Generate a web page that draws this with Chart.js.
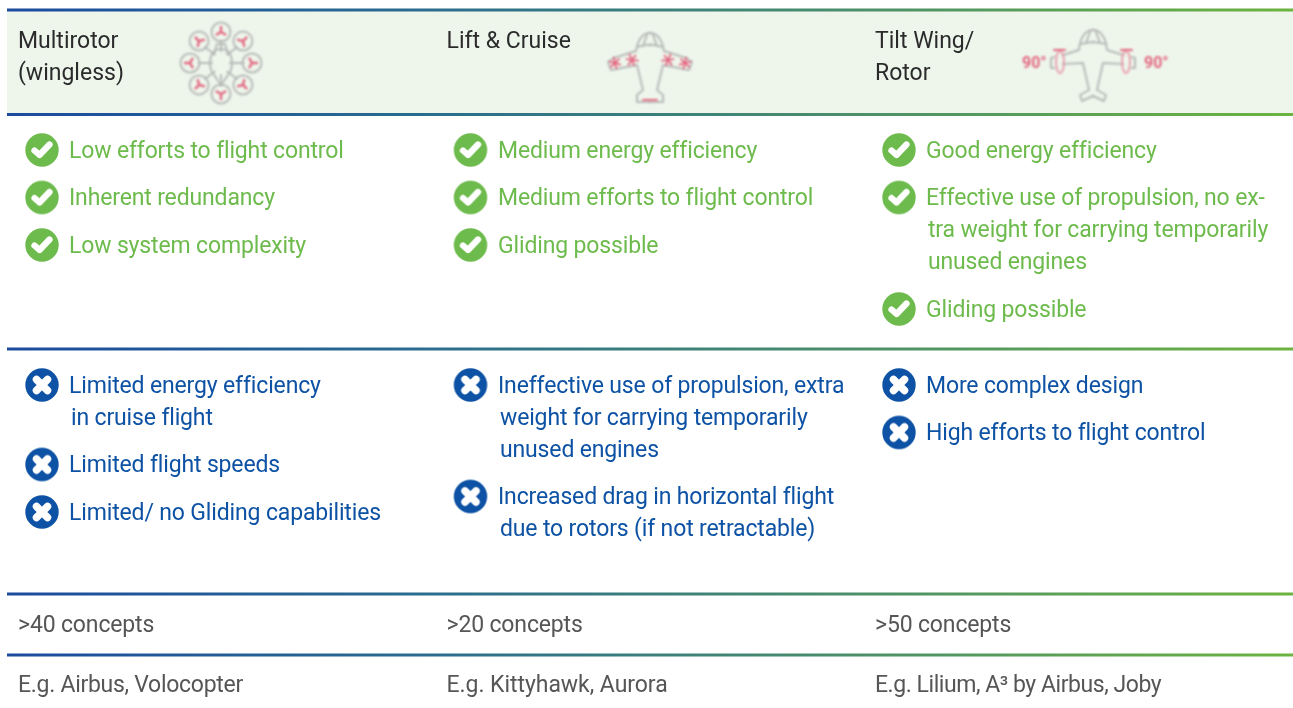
<!DOCTYPE html>
<html>
<head>
<meta charset="utf-8">
<title>VTOL architectures</title>
<script src="https://cdn.jsdelivr.net/npm/chart.js@4"></script>
<style>
    html, body { margin: 0; padding: 0; background: #ffffff; }
    canvas { display: block; }
</style>
</head>
<body>
<canvas id="tableChart" width="1293" height="708"></canvas>
<script>
// Table content, one entry per column
const headerLines = [['Multirotor', '(wingless)'], ['Lift & Cruise'], ['Tilt Wing/', 'Rotor']];
const prosLines = [
    [['Low efforts to flight control'], ['Inherent redundancy'], ['Low system complexity']],
    [['Medium energy efficiency'], ['Medium efforts to flight control'], ['Gliding possible']],
    [['Good energy efficiency'], ['Effective use of propulsion, no ex-', 'tra weight for carrying temporarily', 'unused engines'], ['Gliding possible']]
];
const consLines = [
    [['Limited energy efficiency', 'in cruise flight'], ['Limited flight speeds'], ['Limited/ no Gliding capabilities']],
    [['Ineffective use of propulsion, extra', 'weight for carrying temporarily', 'unused engines'], ['Increased drag in horizontal flight', 'due to rotors (if not retractable)']],
    [['More complex design'], ['High efforts to flight control']]
];
const conceptCounts = ['>40 concepts', '>20 concepts', '>50 concepts'];
const exampleLines = ['E.g. Airbus, Volocopter', 'E.g. Kittyhawk, Aurora', 'E.g. Lilium, A³ by Airbus, Joby'];

// Layout of the table in axis units
const layout = {
    ruleStart: 7, ruleEnd: 1293,
    rules: [10, 114.5, 349, 594, 655],
    colText: [18, 446.5, 875],
    colIcon: [42, 470.5, 899],
    colItem: [69, 498, 926],
    iconCenter: [[221, 63], [650, 65], [1095, 65]],
    headerY: 42, prosY: 150, consY: 385, conceptY: 626, exampleY: 686,
    lineHeight: 32, itemGap: 15.5, wrapIndent: 2, textShift: 2,
    exampleSpacing: [-0.28, -0.05, -0.45]
};
const FONT = 'Roboto, sans-serif';
const GREEN = '#6dbb4c';
const BLUE = '#0d52a4';
const ICON_GRAY = '#b8bab8';
const ICON_RED = '#e2667f';

function makeCanvas(w, h) {
    const c = document.createElement('canvas');
    c.width = w;
    c.height = h;
    return c;
}

// Round badge with check mark
function checkIcon() {
    const c = makeCanvas(36, 36);
    const g = c.getContext('2d');
    g.fillStyle = GREEN;
    g.beginPath();
    g.arc(18, 18, 16.7, 0, Math.PI * 2);
    g.fill();
    g.strokeStyle = '#ffffff';
    g.lineWidth = 6.3;
    g.lineCap = 'round';
    g.lineJoin = 'round';
    g.beginPath();
    g.moveTo(10.5, 18.5);
    g.lineTo(15.5, 23);
    g.lineTo(25.5, 12.5);
    g.stroke();
    return c;
}

// Round badge with cross
function crossIcon() {
    const c = makeCanvas(36, 36);
    const g = c.getContext('2d');
    g.fillStyle = BLUE;
    g.beginPath();
    g.arc(18, 18, 16.7, 0, Math.PI * 2);
    g.fill();
    g.strokeStyle = '#ffffff';
    g.lineWidth = 7.5;
    g.lineCap = 'round';
    g.beginPath();
    g.moveTo(12.5, 12.5);
    g.lineTo(23.5, 23.5);
    g.moveTo(23.5, 12.5);
    g.lineTo(12.5, 23.5);
    g.stroke();
    return c;
}

function blurred(g) {
    g.filter = 'blur(0.8px)';
    g.strokeStyle = ICON_GRAY;
    g.lineWidth = 2;
    g.lineCap = 'round';
    g.lineJoin = 'round';
}

function propeller(g, x, y, r, start, width) {
    g.save();
    g.strokeStyle = ICON_RED;
    g.lineWidth = width;
    g.beginPath();
    for (let i = 0; i < 3; i++) {
        const a = start + i * Math.PI * 2 / 3;
        g.moveTo(x, y);
        g.lineTo(x + Math.cos(a) * r, y + Math.sin(a) * r);
    }
    g.stroke();
    g.restore();
}

function multirotorIcon() {
    const c = makeCanvas(90, 90);
    const g = c.getContext('2d');
    blurred(g);
    const cx = 45, cy = 45;
    // arms and rotors
    for (let i = 0; i < 8; i++) {
        const a = -Math.PI / 2 + i * Math.PI / 4;
        const rx = cx + Math.cos(a) * 31, ry = cy + Math.sin(a) * 31;
        g.beginPath();
        g.moveTo(cx + Math.cos(a) * 9, cy + Math.sin(a) * 12);
        g.lineTo(rx - Math.cos(a) * 9, ry - Math.sin(a) * 9);
        g.stroke();
        g.beginPath();
        g.arc(rx, ry, 9.5, 0, Math.PI * 2);
        g.stroke();
        propeller(g, rx, ry, 5, a + Math.PI / 2 + Math.PI / 6, 2.4);
    }
    // body
    g.beginPath();
    g.moveTo(45, 31);
    g.bezierCurveTo(58, 31, 57, 48, 54, 54);
    g.lineTo(45, 67);
    g.lineTo(36, 54);
    g.bezierCurveTo(33, 48, 32, 31, 45, 31);
    g.moveTo(41, 26);
    g.lineTo(38, 36);
    g.moveTo(49, 26);
    g.lineTo(52, 36);
    g.moveTo(41, 26);
    g.lineTo(49, 26);
    g.stroke();
    return c;
}

function liftCruiseIcon() {
    const c = makeCanvas(100, 90);
    const g = c.getContext('2d');
    blurred(g);
    const half = (s) => {
        g.save();
        g.translate(50, 0);
        g.scale(s, 1);
        g.beginPath();
        g.moveTo(0, 13);
        g.bezierCurveTo(-8, 13, -12, 20, -14, 31);
        g.lineTo(-36, 38);
        g.lineTo(-42, 42);
        g.lineTo(-39, 50);
        g.lineTo(-13, 45);
        g.lineTo(-7, 70);
        g.lineTo(-13, 75);
        g.lineTo(-13, 82);
        g.lineTo(0, 82);
        g.moveTo(-3, 15);
        g.lineTo(-7, 26);
        g.moveTo(-13, 27);
        g.quadraticCurveTo(0, 24, 0, 25);
        g.stroke();
        propeller(g, -35, 43, 5.5, 0.3, 1.9);
        propeller(g, -35, 43, 5.5, 1.3, 1.9);
        propeller(g, -18, 40, 6, 0.1, 1.9);
        propeller(g, -18, 40, 5.5, 1.2, 1.9);
        g.restore();
    };
    half(1);
    half(-1);
    g.strokeStyle = ICON_RED;
    g.lineWidth = 2;
    g.beginPath();
    g.moveTo(43, 80);
    g.lineTo(57, 80);
    g.stroke();
    return c;
}

function tiltIcon() {
    const c = makeCanvas(160, 90);
    const g = c.getContext('2d');
    blurred(g);
    const half = (s) => {
        g.save();
        g.translate(78, 0);
        g.scale(s, 1);
        g.beginPath();
        g.moveTo(0, 10);
        g.bezierCurveTo(-8, 10, -13, 18, -14, 30);
        g.lineTo(-30, 35);
        g.moveTo(-38, 37);
        g.lineTo(-42, 38);
        g.lineTo(-42, 48);
        g.lineTo(-38, 48);
        g.moveTo(-30, 44);
        g.lineTo(-10, 43);
        g.lineTo(-4, 70);
        g.lineTo(-13, 75);
        g.lineTo(-11, 81);
        g.lineTo(0, 76);
        g.moveTo(-3, 12);
        g.lineTo(-7, 23);
        g.moveTo(-13, 24);
        g.lineTo(0, 22);
        g.stroke();
        g.strokeStyle = '#e8a0ae';
        g.beginPath();
        g.ellipse(-33, 42, 4, 11, 0, 0, Math.PI * 2);
        g.stroke();
        g.strokeStyle = ICON_RED;
        g.lineWidth = 2;
        g.beginPath();
        g.moveTo(-39, 30);
        g.lineTo(-28, 30);
        g.stroke();
        g.restore();
    };
    half(1);
    half(-1);
    g.fillStyle = ICON_RED;
    g.font = 'bold 16px "Liberation Sans Narrow", ' + FONT;
    g.textBaseline = 'middle';
    g.textAlign = 'left';
    g.fillText('90°', 7, 44);
    g.fillText('90°', 129, 44);
    return c;
}

// Stack list items downwards, returns one record per text line
function flowItems(items, colIndex, startY, color) {
    const lines = [];
    const icons = [];
    let y = startY;
    items.forEach(item => {
        icons.push({ x: layout.colIcon[colIndex], y: y });
        item.forEach((text, i) => {
            lines.push({ x: layout.colItem[colIndex] + (i > 0 ? layout.wrapIndent : 0), y: y + layout.textShift, text: text, color: color, spacing: -0.15 });
            y += layout.lineHeight;
        });
        y += layout.itemGap;
    });
    return { lines, icons };
}

const textRows = [];
const checkPoints = [];
const crossPoints = [];
headerLines.forEach((col, c) => {
    col.forEach((text, i) => {
        textRows.push({ x: layout.colText[c], y: layout.headerY + i * layout.lineHeight, text: text, color: '#2b2b2b', spacing: 0 });
    });
    const pros = flowItems(prosLines[c], c, layout.prosY, GREEN);
    const cons = flowItems(consLines[c], c, layout.consY, BLUE);
    textRows.push(...pros.lines, ...cons.lines);
    checkPoints.push(...pros.icons);
    crossPoints.push(...cons.icons);
    textRows.push({ x: layout.colText[c], y: layout.conceptY, text: conceptCounts[c], color: '#565656', spacing: -0.15 });
    textRows.push({ x: layout.colText[c], y: layout.exampleY, text: exampleLines[c], color: '#565656', spacing: layout.exampleSpacing[c] });
});

const ruleGradient = makeCanvas(1, 1).getContext('2d').createLinearGradient(layout.ruleStart, 0, layout.ruleEnd, 0);
ruleGradient.addColorStop(0, '#1b4b9f');
ruleGradient.addColorStop(0.33, '#2a6d8e');
ruleGradient.addColorStop(0.66, '#4b8f6a');
ruleGradient.addColorStop(1, '#6db33f');

const tableText = {
    id: 'tableText',
    afterDatasetsDraw(chart) {
        const { ctx, scales } = chart;
        ctx.save();
        ctx.font = '23px ' + FONT;
        ctx.textBaseline = 'middle';
        ctx.textAlign = 'left';
        textRows.forEach(row => {
            ctx.fillStyle = row.color;
            ctx.letterSpacing = row.spacing + 'px';
            ctx.fillText(row.text, scales.x.getPixelForValue(row.x), scales.y.getPixelForValue(row.y));
        });
        ctx.restore();
    }
};

const ruleDatasets = layout.rules.map(y => ({
    type: 'line',
    data: [{ x: layout.ruleStart, y: y }, { x: layout.ruleEnd, y: y }],
    borderColor: ruleGradient,
    borderWidth: 3,
    pointRadius: 0,
    order: 1
}));

new Chart(document.getElementById('tableChart'), {
    type: 'scatter',
    data: {
        datasets: [
            {
                // header band
                type: 'line',
                data: [{ x: layout.ruleStart, y: layout.rules[0] }, { x: layout.ruleEnd, y: layout.rules[0] }],
                borderWidth: 0,
                pointRadius: 0,
                fill: { value: layout.rules[1] },
                backgroundColor: '#eef6ec',
                order: 2
            },
            ...ruleDatasets,
            { data: checkPoints, pointStyle: checkIcon(), order: 0 },
            { data: crossPoints, pointStyle: crossIcon(), order: 0 },
            { data: [{ x: layout.iconCenter[0][0], y: layout.iconCenter[0][1] }], pointStyle: multirotorIcon(), order: 0 },
            { data: [{ x: layout.iconCenter[1][0], y: layout.iconCenter[1][1] }], pointStyle: liftCruiseIcon(), order: 0 },
            { data: [{ x: layout.iconCenter[2][0], y: layout.iconCenter[2][1] }], pointStyle: tiltIcon(), order: 0 }
        ]
    },
    options: {
        responsive: false,
        animation: false,
        events: [],
        layout: { padding: 0, autoPadding: false },
        plugins: { legend: { display: false }, tooltip: { enabled: false } },
        scales: {
            x: { type: 'linear', min: 0, max: 1293, display: false },
            y: { type: 'linear', min: 0, max: 708, reverse: true, display: false }
        }
    },
    plugins: [tableText]
});
</script>
</body>
</html>
